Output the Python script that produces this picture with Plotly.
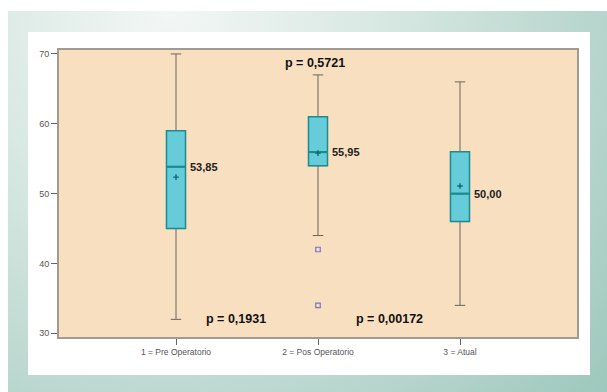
import base64
import plotly.graph_objects as go

# Groups and box statistics
groups = ["1 = Pre Operatorio", "2 = Pos Operatorio", "3 = Atual"]
positions = [0, 1, 2]
q1 = [45, 54, 46]
median = [53.85, 55.95, 50.00]
q3 = [59, 61, 56]
lower_whisker = [32, 44, 34]
upper_whisker = [70, 67, 66]
means = [52.37, 55.8, 51.1]
median_labels = ["53,85", "55,95", "50,00"]

# Outlying observations (group position, value)
outlier_pos = [1, 1]
outlier_val = [42, 34]

# p-values of the pairwise comparisons
p_texts = ["p = 0,5721", "p = 0,1931", "p = 0,00172"]

y_ticks = [30, 40, 50, 60, 70]

W, H = 607, 392
L, R, T, B = 58, 29, 49, 54
PW, PH = W - L - R, H - T - B

BOX_W = 0.134
TAN = "#f8dfc0"
TEAL = "#1d8c91"
FILL = "#66ccd9"
WHISK = "#6a655c"
FONT = "Liberation Sans, Arial, sans-serif"

# Page background: soft teal gradient with a white card
svg = f"""<svg xmlns='http://www.w3.org/2000/svg' width='{W}' height='{H}'>
<defs><radialGradient id='g' gradientUnits='userSpaceOnUse' cx='170' cy='8' r='590'>
<stop offset='0' stop-color='#f3f7f5'/><stop offset='0.4' stop-color='#d4e6e0'/>
<stop offset='0.75' stop-color='#b5d4cb'/><stop offset='1' stop-color='#9cc7bc'/></radialGradient></defs>
<rect width='{W}' height='{H}' fill='white'/>
<rect x='8' y='11' width='{W-8}' height='{H-11}' fill='url(#g)'/>
<rect x='28' y='32' width='562' height='343' fill='white'/>
</svg>"""
bg_src = "data:image/svg+xml;base64," + base64.b64encode(svg.encode()).decode()

fig = go.Figure()

# Whiskers (full range, grey)
fig.add_trace(go.Box(
    x=positions, q1=q1, median=median, q3=q3,
    lowerfence=lower_whisker, upperfence=upper_whisker,
    width=BOX_W, whiskerwidth=0.55,
    line=dict(color=WHISK, width=1), fillcolor="rgba(0,0,0,0)",
    boxpoints=False, hoverinfo="skip", showlegend=False,
))

# Boxes (interquartile range, teal)
fig.add_trace(go.Box(
    x=positions, q1=q1, median=median, q3=q3,
    lowerfence=q1, upperfence=q3,
    width=BOX_W, whiskerwidth=0,
    line=dict(color=TEAL, width=1.5), fillcolor=FILL,
    boxpoints=False, showlegend=False,
))

# Heavier median strokes
for p, m in zip(positions, median):
    fig.add_trace(go.Scatter(
        x=[p - BOX_W / 2, p + BOX_W / 2], y=[m, m], mode="lines",
        line=dict(color=TEAL, width=2.2), hoverinfo="skip", showlegend=False,
    ))

# Means
fig.add_trace(go.Scatter(
    x=positions, y=means, mode="markers",
    marker=dict(symbol="cross-thin", size=4, line=dict(color="#0c6c72", width=1.4)),
    showlegend=False,
))

# Outliers
fig.add_trace(go.Scatter(
    x=outlier_pos, y=outlier_val, mode="markers",
    marker=dict(symbol="square-open", size=4.5, color="#7d72c6", line=dict(width=1.2)),
    showlegend=False,
))

annotations = []
for p, m, t in zip(positions, median, median_labels):
    annotations.append(dict(
        x=p + BOX_W / 2, y=m, text=t, showarrow=False, xanchor="left", yanchor="middle",
        xshift=2, font=dict(family=FONT, size=11, color="#222", weight="bold"),
    ))

p_pos = [(0.98, 68.76), (0.42, 32.0), (1.507, 32.0)]
for (px, py), t in zip(p_pos, p_texts):
    annotations.append(dict(
        x=px, y=py, text=t, showarrow=False, xanchor="center", yanchor="middle",
        font=dict(family=FONT, size=12.5, color="#111", weight="bold"),
    ))

fig.update_layout(
    width=W, height=H,
    margin=dict(l=L, r=R, t=T, b=B, pad=0),
    paper_bgcolor="white", plot_bgcolor=TAN,
    boxmode="overlay",
    annotations=annotations,
    images=[dict(
        source=bg_src, xref="paper", yref="paper",
        x=-L / PW, y=1 + T / PH, sizex=W / PW, sizey=H / PH,
        xanchor="left", yanchor="top", sizing="stretch", layer="below",
    )],
    shapes=[dict(
        type="rect", xref="paper", yref="paper", x0=0, x1=1, y0=0, y1=1,
        fillcolor=TAN, line=dict(color="#a09a91", width=2), layer="below",
    )],
    xaxis=dict(
        range=[-0.831, 2.831], tickmode="array", tickvals=positions, ticktext=groups,
        ticks="outside", ticklen=6, tickcolor="#666", tickwidth=1,
        showgrid=False, zeroline=False, showline=False,
        tickfont=dict(family=FONT, size=8.5, color="#555"),
    ),
    yaxis=dict(
        range=[29.33, 70.71], tickmode="array", tickvals=y_ticks,
        ticks="outside", ticklen=6, tickcolor="#666", tickwidth=1,
        showgrid=False, zeroline=False, showline=False,
        tickfont=dict(family=FONT, size=9, color="#555"),
    ),
)

fig.write_html("out.html")
